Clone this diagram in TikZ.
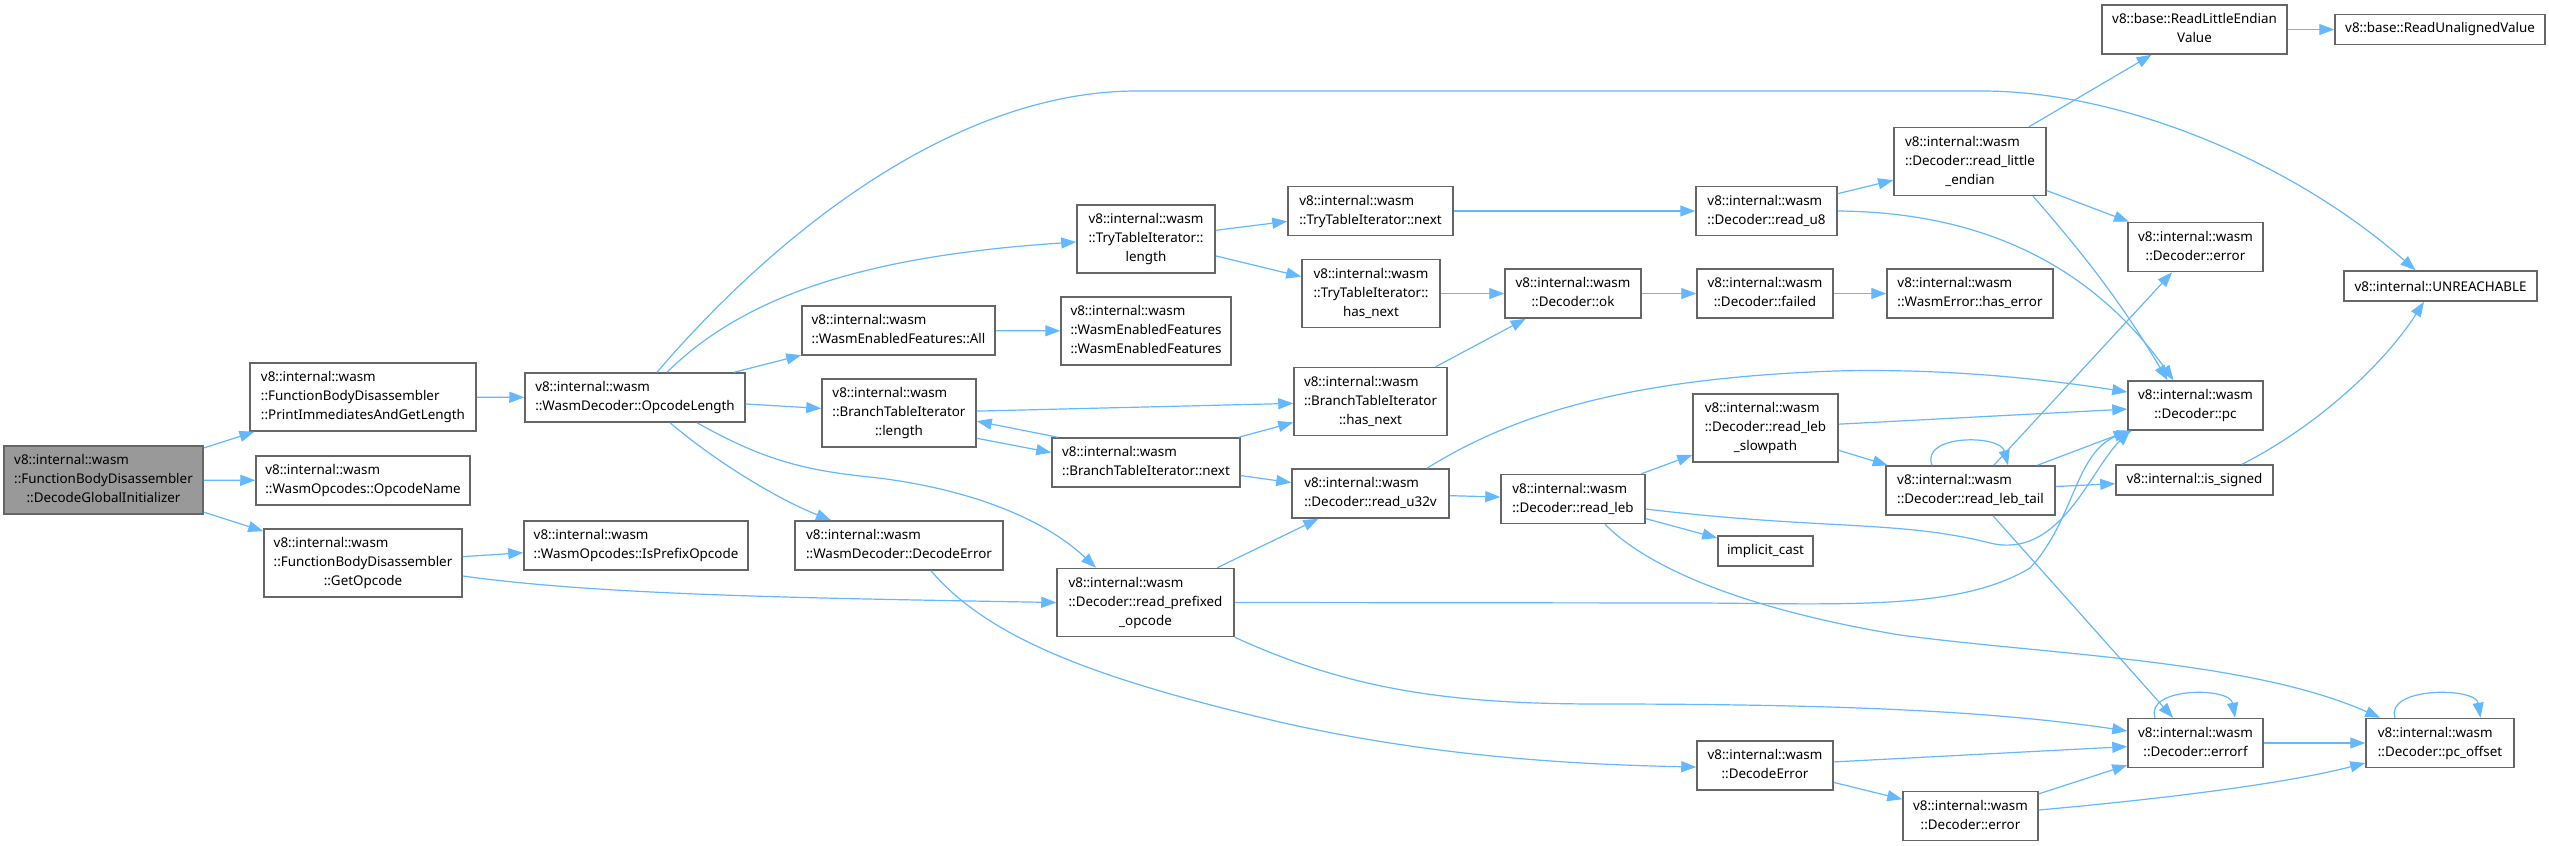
\documentclass[tikz,border=0pt]{standalone}
\usepackage{fontspec}
\setmainfont{Noto Sans}
\usetikzlibrary{arrows.meta,calc}
\definecolor{edgec}{RGB}{99,184,255}
\definecolor{boxc}{HTML}{666666}
\definecolor{startc}{HTML}{999999}
\newcommand{\dl}[2]{\begin{tabular}{@{}l@{}}#1\\\multicolumn{1}{@{}c@{}}{#2}\end{tabular}}
\begin{document}
\begin{tikzpicture}[x=1pt,y=-1pt, font=\fontsize{13.4}{19}\selectfont,
 box/.style={draw=boxc, line width=1.5pt, fill=white, inner sep=0pt, text=black},
 startbox/.style={box, fill=startc},
 edg/.style={draw=edgec, line width=1.2pt, -{Triangle[length=15pt,width=11pt]}}]
\useasboundingbox[fill=white] (0,0) rectangle (2549,846);
% nodes
\node[startbox, minimum width=199pt, minimum height=68pt] (N0) at (103.5,480) {\dl{v8::internal::wasm\\::FunctionBodyDisassembler}{::DecodeGlobalInitializer}};
\node[box, minimum width=226pt, minimum height=68pt] (N1) at (363,397) {\dl{v8::internal::wasm\\::FunctionBodyDisassembler}{::PrintImmediatesAndGetLength}};
\node[box, minimum width=214pt, minimum height=49pt] (N2) at (363,480.5) {\dl{v8::internal::wasm}{::WasmOpcodes::OpcodeName}};
\node[box, minimum width=198pt, minimum height=68pt] (N3) at (363,563) {\dl{v8::internal::wasm\\::FunctionBodyDisassembler}{::GetOpcode}};
\node[box, minimum width=220pt, minimum height=49pt] (N4) at (635,397.5) {\dl{v8::internal::wasm}{::WasmDecoder::OpcodeLength}};
\node[box, minimum width=224pt, minimum height=49pt] (N5) at (636,545.5) {\dl{v8::internal::wasm}{::WasmOpcodes::IsPrefixOpcode}};
\node[box, minimum width=138pt, minimum height=68pt] (N6) at (1146,239) {\dl{v8::internal::wasm\\::TryTableIterator::}{length}};
\node[box, minimum width=193pt, minimum height=49pt] (N7) at (898.5,330.5) {\dl{v8::internal::wasm}{::WasmEnabledFeatures::All}};
\node[box, minimum width=154pt, minimum height=68pt] (N8) at (899,413) {\dl{v8::internal::wasm\\::BranchTableIterator}{::length}};
\node[box, minimum width=208pt, minimum height=49pt] (N9) at (899,545.5) {\dl{v8::internal::wasm}{::WasmDecoder::DecodeError}};
\node[box, minimum width=165pt, minimum height=49pt] (N10) at (1370.5,211) {\dl{v8::internal::wasm}{::TryTableIterator::next}};
\node[box, minimum width=138pt, minimum height=68pt] (N11) at (1371,293.5) {\dl{v8::internal::wasm\\::TryTableIterator::}{has\_next}};
\node[box, minimum width=170pt, minimum height=68pt] (N12) at (1146,331) {\dl{v8::internal::wasm\\::WasmEnabledFeatures}{::WasmEnabledFeatures}};
\node[box, minimum width=153pt, minimum height=68pt] (N13) at (1370.5,401.5) {\dl{v8::internal::wasm\\::BranchTableIterator}{::has\_next}};
\node[box, minimum width=188pt, minimum height=49pt] (N14) at (1146,462.5) {\dl{v8::internal::wasm}{::BranchTableIterator::next}};
\node[box, minimum width=157pt, minimum height=49pt] (N15) at (1370.5,493.5) {\dl{v8::internal::wasm}{::Decoder::read\_u32v}};
\node[box, minimum width=177pt, minimum height=68pt] (N16) at (1145.5,602.5) {\dl{v8::internal::wasm\\::Decoder::read\_prefixed}{\_opcode}};
\node[box, minimum width=136pt, minimum height=49pt] (N17) at (1573,293.5) {\dl{v8::internal::wasm}{::Decoder::ok}};
\node[box, minimum width=141pt, minimum height=49pt] (N18) at (1766.5,211) {\dl{v8::internal::wasm}{::Decoder::read\_u8}};
\node[box, minimum width=136pt, minimum height=49pt] (N19) at (1765,293.5) {\dl{v8::internal::wasm}{::Decoder::failed}};
\node[box, minimum width=144pt, minimum height=49pt] (N20) at (1573,499) {\dl{v8::internal::wasm}{::Decoder::read\_leb}};
\node[box, minimum width=152pt, minimum height=68pt] (N21) at (1970,161.5) {\dl{v8::internal::wasm\\::Decoder::read\_little}{\_endian}};
\node[box, minimum width=166pt, minimum height=49pt] (N22) at (1970,293.5) {\dl{v8::internal::wasm}{::WasmError::has\_error}};
\node[box, minimum width=145pt, minimum height=68pt] (N23) at (1765.5,428) {\dl{v8::internal::wasm\\::Decoder::read\_leb}{\_slowpath}};
\node[box, minimum width=169pt, minimum height=49pt] (N24) at (1970.5,490.5) {\dl{v8::internal::wasm}{::Decoder::read\_leb\_tail}};
\node[box, minimum width=95pt, minimum height=30pt] (N25) at (1765.5,551) {implicit\_cast};
\node[box, minimum width=136pt, minimum height=49pt] (N26) at (1765,765.5) {\dl{v8::internal::wasm}{::DecodeError}};
\node[box, minimum width=185pt, minimum height=49pt] (N27) at (2194.5,29.5) {\dl{v8::base::ReadLittleEndian}{Value}};
\node[box, minimum width=210pt, minimum height=30pt] (N28) at (2440,29.5) {v8::base::ReadUnalignedValue};
\node[box, minimum width=135pt, minimum height=49pt] (N29) at (2195.5,247) {\dl{v8::internal::wasm}{::Decoder::error}};
\node[box, minimum width=193pt, minimum height=30pt] (N30) at (2440.5,286) {v8::internal::UNREACHABLE};
\node[box, minimum width=135pt, minimum height=49pt] (N31) at (2195.5,405.5) {\dl{v8::internal::wasm}{::Decoder::pc}};
\node[box, minimum width=157pt, minimum height=30pt] (N32) at (2194.5,480) {v8::internal::is\_signed};
\node[box, minimum width=135pt, minimum height=49pt] (N33) at (2195.5,743) {\dl{v8::internal::wasm}{::Decoder::errorf}};
\node[box, minimum width=148pt, minimum height=49pt] (N34) at (2440,743) {\dl{v8::internal::wasm}{::Decoder::pc\_offset}};
\node[box, minimum width=135pt, minimum height=49pt] (N35) at (1970.5,816) {\dl{v8::internal::wasm}{::Decoder::error}};
% edges
\draw[edg] (N0) -- (N1);
\draw[edg] (N0) -- (N2);
\draw[edg] (N0) -- (N3);
\draw[edg] (N1) -- (N4);
\draw[edg] ($(N4.north)+(22,0)$) .. controls (770,240) and (950,91) .. (1137,91) -- (1982,91) .. controls (2120,91) and (2290,160) .. ($(N30.north)+(-25,0)$);
\draw[edg] ($(N4.north)+(32,0)$) .. controls (750,290) and (880,255) .. ($(N6.west)+(0,3)$);
\draw[edg] (N4) -- (N7);
\draw[edg] (N4) -- (N8);
\draw[edg] ($(N4.south)+(35,0)$) .. controls (720,465) and (780,500) .. ($(N9.north)+(-68,0)$);
\draw[edg] ($(N4.south)+(62,0)$) .. controls (760,458) and (800,470) .. (870,477) .. controls (960,487) and (1040,515) .. ($(N16.north)+(-49.5,0)$);
\draw[edg] (N3) -- (N5);
\draw[edg] ($(N3.east)+(0,13)$) .. controls (600,595) and (800,598) .. (N16.west);
\draw[edg] (N6) -- (N10);
\draw[edg] (N6) -- (N11);
\draw[edg] (N10) -- (N18);
\draw[edg] (N11) -- (N17);
\draw[edg] (N7) -- (N12);
\draw[edg] (N8) -- (N13);
\draw[edg] (N8.-18) -- (N14.174);
\draw[edg] (N14.164) -- (N8.-6);
\draw[edg] (N14) -- (N13);
\draw[edg] (N14) -- (N15);
\draw[edg] (N13) -- (N17);
\draw[edg] ($(N15.north)+(56.5,0)$) .. controls (1520,410) and (1640,378) .. (1835,371) .. controls (1950,368) and (2050,380) .. ($(N31.west)+(0,-13.5)$);
\draw[edg] (N15) -- (N20);
\draw[edg] (N16) -- (N15);
\draw[edg] (N16.east) -- (1700,603) .. controls (1850,604) and (1960,610) .. (2030,568) .. controls (2075,520) and (2075,450) .. ($(N31.south west)+(5,0)$);
\draw[edg] (N16.south east) .. controls (1350,690) and (1450,704) .. (1600,704) .. controls (1850,704) and (2000,712) .. ($(N33.west)+(0,-12)$);
\draw[edg] ($(N9.south)+(32,0)$) .. controls (990,640) and (1100,680) .. (1284,723) .. controls (1450,760) and (1600,765) .. ($(N26.west)+(0,1.5)$);
\draw[edg] (N17) -- (N19);
\draw[edg] (N19) -- (N22);
\draw[edg] (N18) -- (N21);
\draw[edg] (N18.east) .. controls (1960,212) and (2080,250) .. ($(N31.north)+(-22,0)$);
\draw[edg] (N21) -- (N27);
\draw[edg] (N21) -- (N29);
\draw[edg] ($(N21.south)+(63,0)$) .. controls (2080,250) and (2120,300) .. ($(N31.north)+(-28,0)$);
\draw[edg] (N27) -- (N28);
\draw[edg] (N20) -- (N23);
\draw[edg] ($(N20.east)+(0,10)$) .. controls (1820,530) and (1900,520) .. (1990,543) .. controls (2060,560) and (2090,470) .. ($(N31.south west)+(3,0)$);
\draw[edg] (N20) -- (N25);
\draw[edg] ($(N20.south)+(32,0)$) .. controls (1650,570) and (1750,610) .. (1900,635) .. controls (2050,655) and (2250,660) .. ($(N34.north west)+(15,0)$);
\draw[edg] (N23) -- (N31);
\draw[edg] (N23) -- (N24);
\draw[edg] ($(N24.north)+(-38.5,0)$) .. controls +(-12,-31) and +(-8,-31) .. ($(N24.north)+(37.5,0)$);
\draw[edg] (N24) -- (N29);
\draw[edg] (N24) -- (N31);
\draw[edg] (N24) -- (N32);
\draw[edg] (N24) -- (N33);
\draw[edg] ($(N32.north)+(47.5,0)$) .. controls (2310,430) and (2380,370) .. ($(N30.south)+(-16.5,0)$);
\draw[edg] ($(N33.north)+(-40.5,0)$) .. controls +(-10,-31) and +(-5,-31) .. ($(N33.north)+(39.5,0)$);
\draw[edg] (N33) -- (N34);
\draw[edg] ($(N34.north)+(-45,0)$) .. controls +(-10,-31) and +(-5,-31) .. ($(N34.north)+(40.5,0)$);
\draw[edg] (N26) -- (N33);
\draw[edg] (N26) -- (N35);
\draw[edg] (N35) -- (N33);
\draw[edg] ($(N35.east)+(0,-6)$) .. controls (2150,800) and (2280,785) .. ($(N34.west)+(0,20)$);
\end{tikzpicture}
\end{document}
